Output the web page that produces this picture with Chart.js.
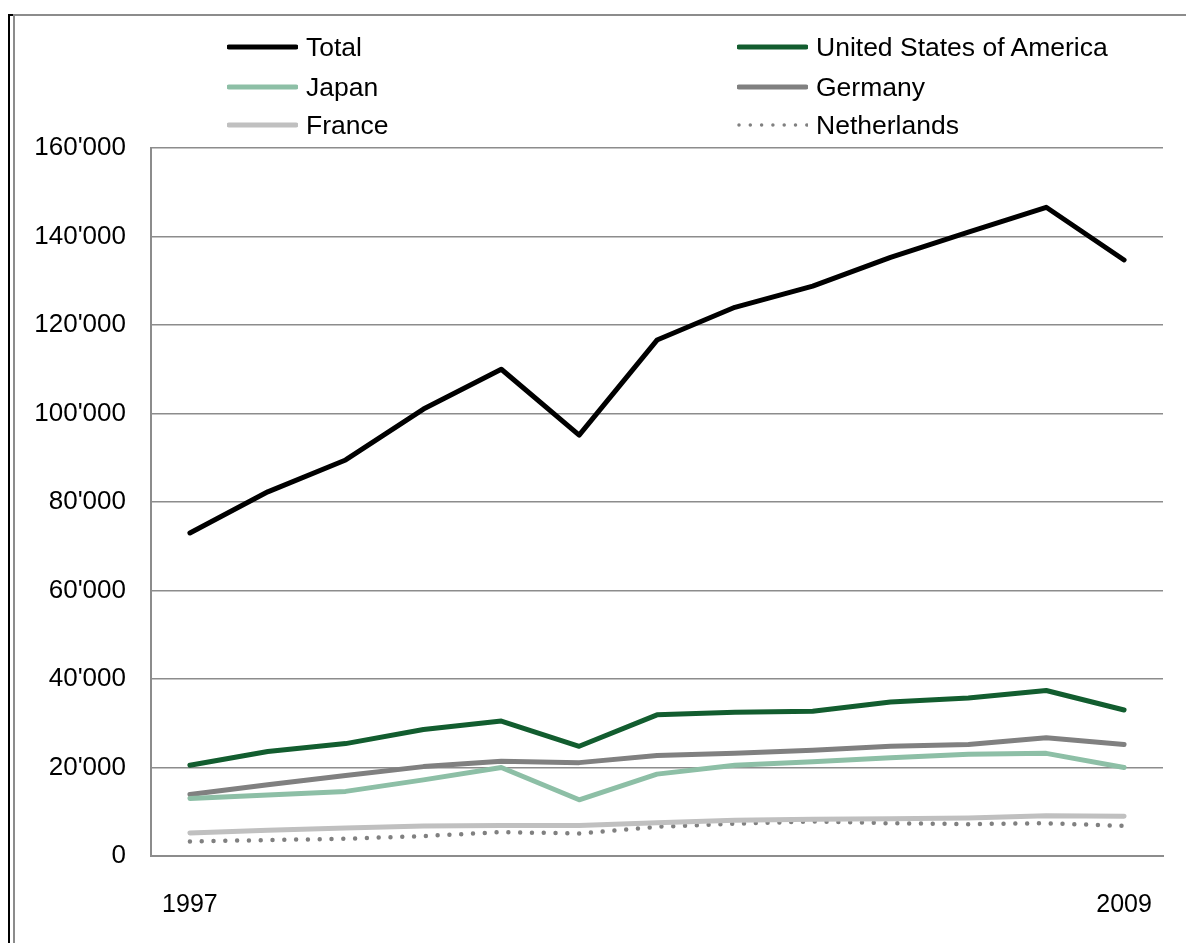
<!DOCTYPE html>
<html>
<head>
<meta charset="utf-8">
<script src="https://cdn.jsdelivr.net/npm/chart.js@4/dist/chart.umd.min.js"></script>
<style>
  html, body { margin: 0; padding: 0; background: #fff; }
  body { width: 1186px; height: 943px; position: relative; overflow: hidden; font-family: "Liberation Sans", Arial, sans-serif; }
  #wrap { position: absolute; left: 0; top: 0; width: 1186px; height: 943px; }
  .frameBlack { position: absolute; left: 8px; top: 14px; width: 2px; height: 940px; background: #000; }
  .frameBlackTop { position: absolute; left: 8px; top: 14px; width: 5px; height: 2px; background: #000; }
  .frameGray { position: absolute; left: 13px; top: 14px; width: 1200px; height: 1000px; border-left: 2px solid #8c8c8c; border-top: 2px solid #8c8c8c; box-sizing: border-box; }
  #legend { position: absolute; left: 0; top: 0; width: 1186px; height: 150px; pointer-events: none; }
  .item { position: absolute; height: 30px; display: flex; align-items: center; font-size: 26.5px; color: #000; white-space: nowrap; }
  .item svg { margin-right: 8px; }
</style>
</head>
<body>
<div class="frameGray"></div>
<div class="frameBlack"></div>
<div class="frameBlackTop"></div>
<div id="wrap"><canvas id="c" width="1186" height="943"></canvas></div>
<div id="legend"></div>
<script>
const years = ['1997','1998','1999','2000','2001','2002','2003','2004','2005','2006','2007','2008','2009'];
const seriesNames = ['Total','United States of America','Japan','Germany','France','Netherlands'];
const total       = [73000, 82300, 89500, 101000, 110000, 95100, 116600, 124000, 128800, 135300, 141000, 146600, 134700];
const usa         = [20500, 23600, 25400, 28600, 30500, 24800, 31900, 32500, 32700, 34800, 35700, 37400, 33000];
const japan       = [13000, 13800, 14600, 17200, 20000, 12700, 18500, 20500, 21300, 22200, 23000, 23200, 20000];
const germany     = [13900, 16100, 18200, 20200, 21400, 21100, 22700, 23200, 23900, 24800, 25200, 26700, 25200];
const france      = [5200, 5800, 6300, 6800, 6900, 6900, 7500, 8100, 8300, 8400, 8600, 9100, 9000];
const netherlands = [3300, 3600, 3900, 4500, 5400, 5100, 6600, 7300, 7800, 7400, 7200, 7400, 6800];
const yTicks = [0, 20000, 40000, 60000, 80000, 100000, 120000, 140000, 160000];

const colors = ['#000000', '#125d2f', '#8dbfa6', '#808080', '#c0c0c0', '#808080'];
const values = [total, usa, japan, germany, france, netherlands];
const dashed = [false, false, false, false, false, true];

const fmt = v => String(v).replace(/\B(?=(\d{3})+(?!\d))/g, "'");

const datasets = seriesNames.map((name, i) => ({
  label: name,
  data: values[i],
  borderColor: colors[i],
  backgroundColor: colors[i],
  borderWidth: dashed[i] ? 4.5 : 5,
  borderDash: dashed[i] ? [0, 11.8] : [],
  borderCapStyle: 'round',
  borderJoinStyle: 'round',
  pointRadius: 0,
  tension: 0,
  fill: false
}));

new Chart(document.getElementById('c'), {
  type: 'line',
  data: { labels: years, datasets },
  options: {
    responsive: false,
    animation: false,
    layout: { padding: { left: 0, right: 23, top: 148, bottom: 0 } },
    plugins: { legend: { display: false }, tooltip: { enabled: false } },
    scales: {
      x: {
        offset: true,
        grid: { display: false },
        border: { display: true, color: '#8c8c8c', width: 2 },
        ticks: {
          autoSkip: false, maxRotation: 0, padding: 26,
          color: '#000', font: { family: '"Liberation Sans", Arial, sans-serif', size: 25 },
          callback: function(v, i) { return (i === 0 || i === years.length - 1) ? years[i] : ''; }
        },
        afterFit: s => { s.height = 87; }
      },
      y: {
        min: 0, max: 160000,
        afterBuildTicks: s => { s.ticks = yTicks.map(v => ({ value: v })); },
        grid: { color: '#8c8c8c', lineWidth: 1.5, drawTicks: false },
        border: { display: true, color: '#8c8c8c', width: 2 },
        ticks: {
          padding: 25, color: '#000',
          font: { family: '"Liberation Sans", Arial, sans-serif', size: 26 },
          callback: v => fmt(v)
        },
        afterFit: s => { s.width = 151; }
      }
    }
  }
});

// legend (two columns)
const legend = document.getElementById('legend');
const colX = [227, 737];
const rowY = [47, 87, 125];
seriesNames.forEach((name, i) => {
  const col = i % 2, row = Math.floor(i / 2);
  const d = document.createElement('div');
  d.className = 'item';
  d.style.left = colX[col] + 'px';
  d.style.top = (rowY[row] - 15) + 'px';
  const line = dashed[i]
    ? `<line x1="2" y1="5" x2="70" y2="5" stroke="${colors[i]}" stroke-width="3.5" stroke-linecap="round" stroke-dasharray="0 11.3"/>`
    : `<line x1="2" y1="5" x2="69" y2="5" stroke="${colors[i]}" stroke-width="5" stroke-linecap="round"/>`;
  d.innerHTML = `<svg width="71" height="10">${line}</svg><span>${name}</span>`;
  legend.appendChild(d);
});
</script>
</body>
</html>
